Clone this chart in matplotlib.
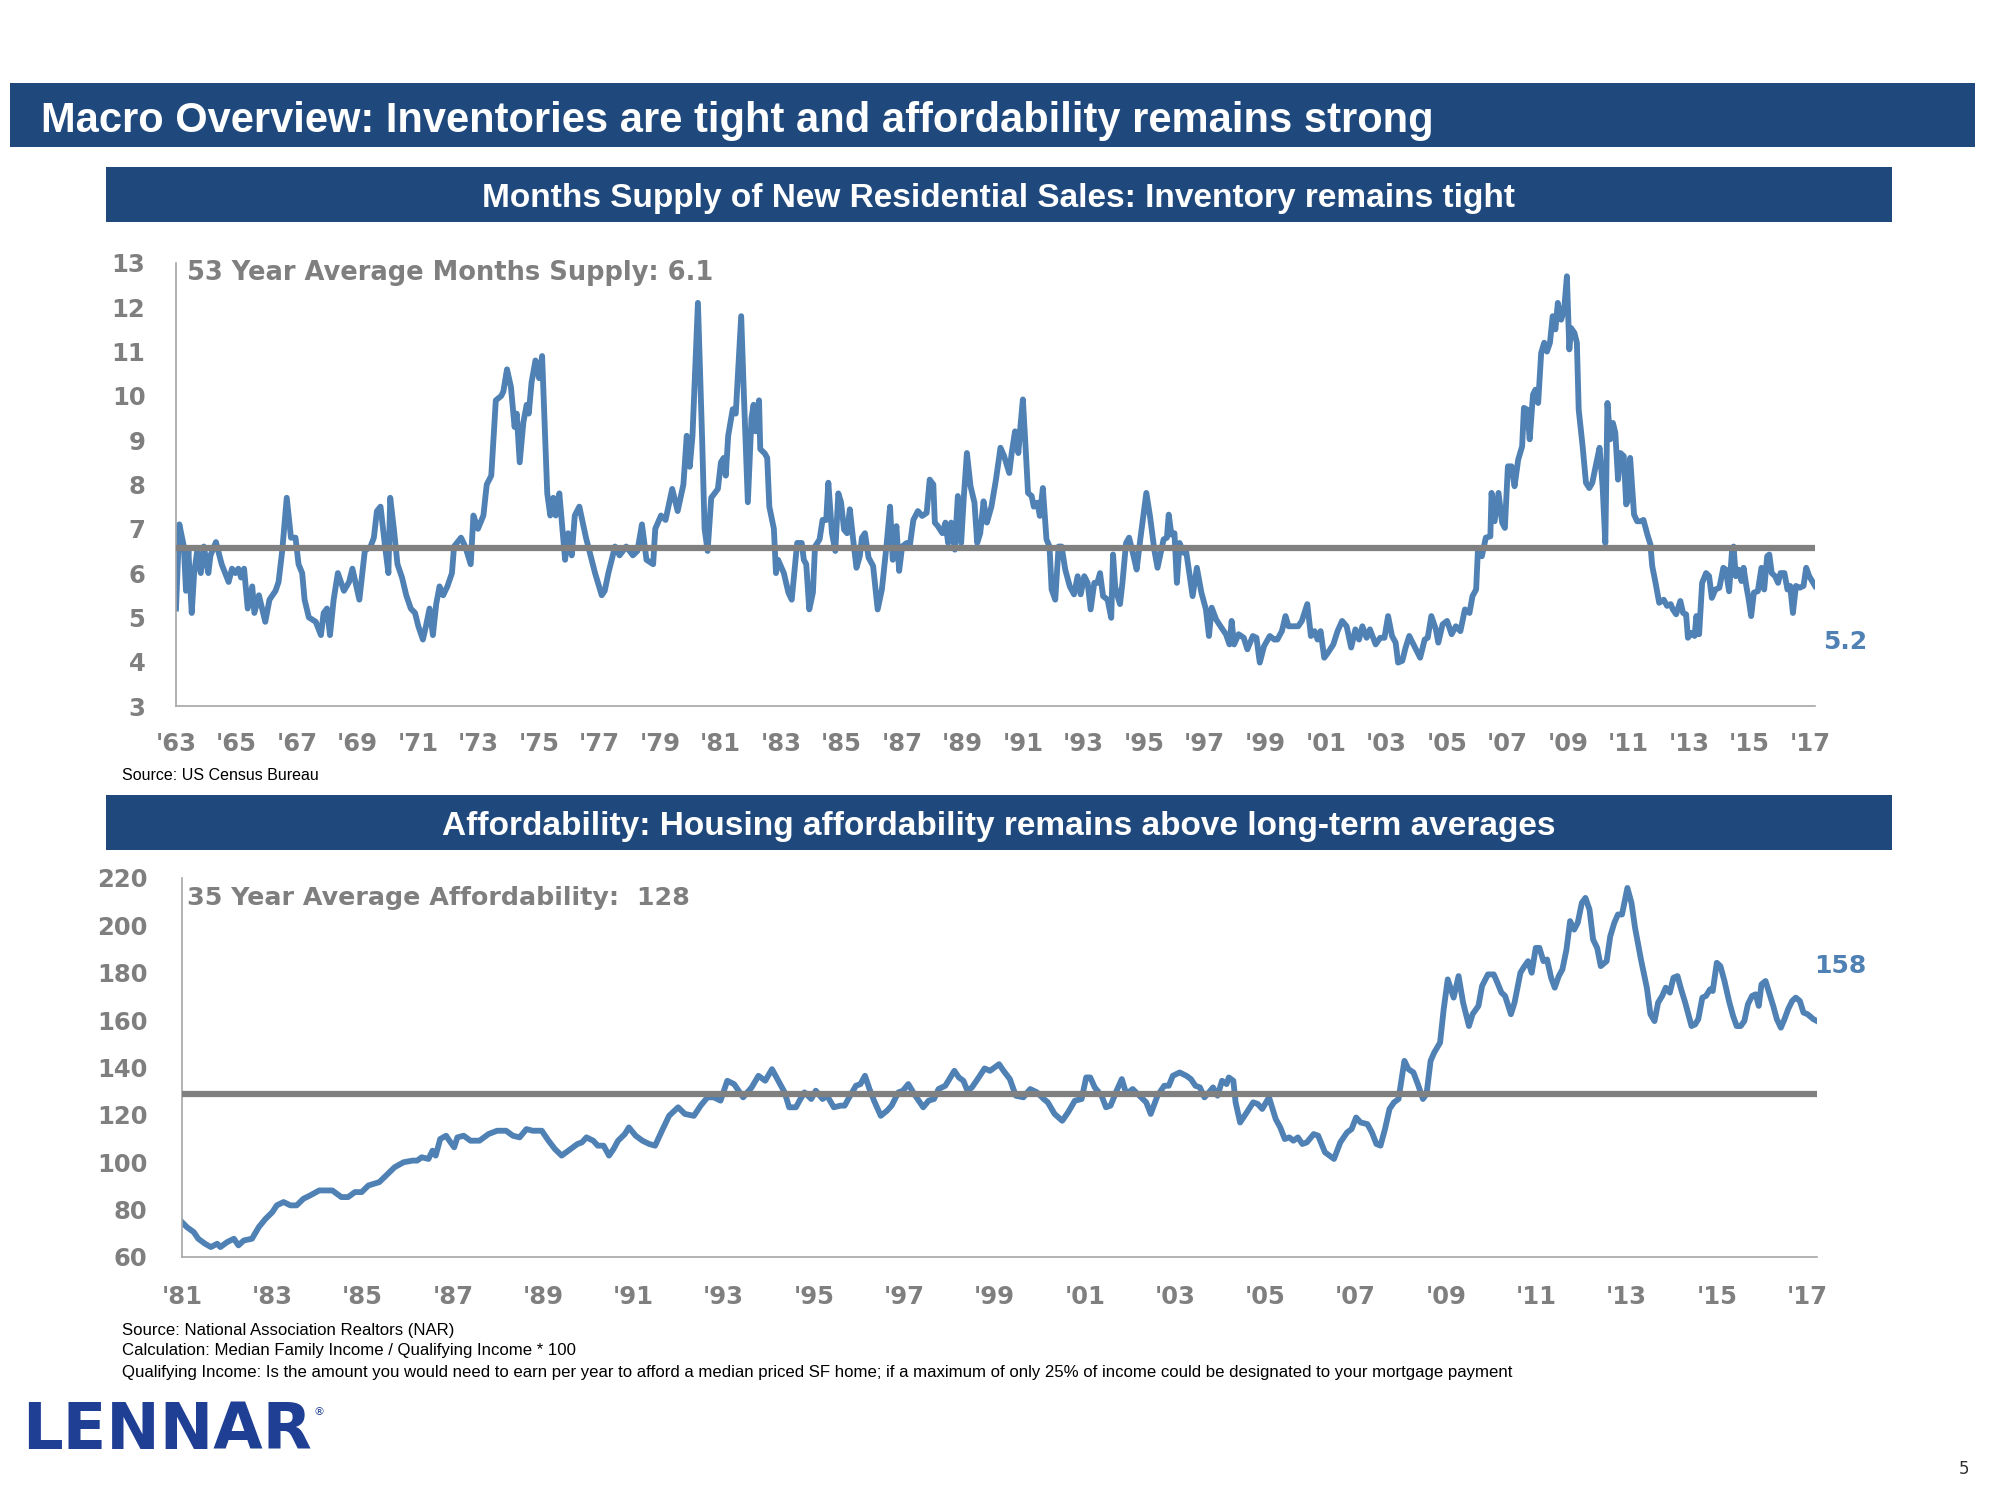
import matplotlib
matplotlib.use("Agg")
import matplotlib.pyplot as plt
from matplotlib.patches import Rectangle

# Months supply of new residential sales
supply_years = [
    1963.00, 1963.11, 1963.26, 1963.33, 1963.41, 1963.52, 1963.60, 1963.70, 1963.82, 1963.92,
    1964.07, 1964.14, 1964.32, 1964.51, 1964.74, 1964.85, 1964.96, 1965.06, 1965.15, 1965.25,
    1965.37, 1965.52, 1965.59, 1965.74, 1965.95, 1966.09, 1966.29, 1966.39, 1966.51, 1966.66,
    1966.80, 1966.95, 1967.05, 1967.17, 1967.25, 1967.39, 1967.62, 1967.79, 1967.88, 1967.99,
    1968.09, 1968.21, 1968.35, 1968.55, 1968.72, 1968.83, 1969.06, 1969.24, 1969.43, 1969.54,
    1969.64, 1969.76, 1969.91, 1970.02, 1970.08, 1970.20, 1970.32, 1970.47, 1970.61, 1970.76,
    1970.90, 1971.01, 1971.16, 1971.26, 1971.38, 1971.49, 1971.60, 1971.71, 1971.83, 1971.97,
    1972.12, 1972.19, 1972.42, 1972.56, 1972.74, 1972.83, 1972.98, 1973.16, 1973.27, 1973.42,
    1973.57, 1973.75, 1973.82, 1973.94, 1974.07, 1974.19, 1974.26, 1974.36, 1974.48, 1974.59,
    1974.66, 1974.75, 1974.88, 1975.00, 1975.10, 1975.27, 1975.37, 1975.47, 1975.55, 1975.67,
    1975.86, 1975.96, 1976.08, 1976.18, 1976.33, 1976.55, 1976.70, 1976.85, 1977.07, 1977.17,
    1977.29, 1977.51, 1977.66, 1977.88, 1978.10, 1978.25, 1978.40, 1978.55, 1978.77, 1978.84,
    1979.03, 1979.18, 1979.40, 1979.58, 1979.77, 1979.88, 1979.98, 1980.07, 1980.25, 1980.39,
    1980.47, 1980.57, 1980.69, 1980.91, 1981.01, 1981.10, 1981.17, 1981.25, 1981.40, 1981.50,
    1981.68, 1981.77, 1981.90, 1982.02, 1982.09, 1982.16, 1982.27, 1982.31, 1982.46, 1982.54,
    1982.61, 1982.76, 1982.83, 1982.90,
    1983.09, 1983.24, 1983.35, 1983.53, 1983.68, 1983.75, 1983.83, 1983.93, 1984.05, 1984.12,
    1984.27, 1984.37, 1984.49, 1984.56, 1984.68, 1984.79, 1984.89, 1984.98, 1985.08, 1985.18,
    1985.27, 1985.38, 1985.49, 1985.60, 1985.67, 1985.77, 1985.89, 1986.04, 1986.19, 1986.33,
    1986.48, 1986.60, 1986.69, 1986.81, 1986.90, 1987.00, 1987.15, 1987.25, 1987.37, 1987.52,
    1987.66, 1987.81, 1987.91, 1988.03, 1988.08, 1988.18, 1988.33, 1988.43, 1988.52, 1988.62,
    1988.74, 1988.84, 1988.95, 1989.04, 1989.14, 1989.26, 1989.39, 1989.48, 1989.58, 1989.69,
    1989.80, 1989.95, 1990.10, 1990.25, 1990.37, 1990.54, 1990.62, 1990.73, 1990.84, 1990.91,
    1990.99, 1991.09, 1991.16, 1991.28, 1991.35, 1991.47, 1991.55, 1991.65, 1991.77, 1991.87,
    1991.94, 1992.06, 1992.17, 1992.27, 1992.39, 1992.54, 1992.68, 1992.80, 1992.90, 1993.02,
    1993.13, 1993.23, 1993.35, 1993.45, 1993.54, 1993.64, 1993.79, 1993.91, 1993.97, 1994.04,
    1994.12, 1994.20, 1994.28, 1994.40, 1994.50, 1994.65, 1994.75, 1994.87, 1994.97, 1995.07,
    1995.19, 1995.34, 1995.44, 1995.56, 1995.64, 1995.75, 1995.81, 1995.90, 1996.00, 1996.08,
    1996.17, 1996.30, 1996.37, 1996.49, 1996.60, 1996.74, 1996.89, 1997.04, 1997.14, 1997.23,
    1997.38, 1997.55, 1997.70, 1997.82, 1997.89, 1997.97, 1998.12, 1998.29, 1998.41, 1998.59,
    1998.71, 1998.82, 1998.96, 1999.15, 1999.30, 1999.40, 1999.55, 1999.67, 1999.77, 1999.92,
    2000.09, 2000.21, 2000.39, 2000.51, 2000.63, 2000.73, 2000.83, 2000.95, 2001.07, 2001.25,
    2001.39, 2001.54, 2001.69, 2001.84, 2001.98, 2002.10, 2002.21, 2002.35, 2002.46, 2002.65,
    2002.80, 2002.94, 2003.06, 2003.19, 2003.31, 2003.39, 2003.53, 2003.64, 2003.76, 2003.90,
    2004.12, 2004.27, 2004.37, 2004.49, 2004.64, 2004.72, 2004.86, 2005.01, 2005.16, 2005.30,
    2005.45, 2005.60, 2005.75, 2005.85, 2005.97,
    2006.03, 2006.16, 2006.29, 2006.44, 2006.48, 2006.58, 2006.71, 2006.83, 2006.92, 2007.02,
    2007.14, 2007.24, 2007.36, 2007.49, 2007.55, 2007.66, 2007.74, 2007.85, 2007.93, 2008.02,
    2008.12, 2008.22, 2008.31, 2008.41, 2008.50, 2008.59, 2008.67, 2008.78, 2008.88, 2008.97,
    2009.05, 2009.11, 2009.22, 2009.30, 2009.36, 2009.49, 2009.60, 2009.71, 2009.81, 2009.92,
    2010.05, 2010.15, 2010.24, 2010.31, 2010.40, 2010.49, 2010.57, 2010.66, 2010.74, 2010.85,
    2010.93, 2011.00, 2011.06, 2011.19, 2011.29, 2011.41, 2011.50, 2011.63, 2011.73, 2011.79,
    2011.90, 2012.02, 2012.17, 2012.28, 2012.40, 2012.47, 2012.58, 2012.72, 2012.81, 2012.91,
    2012.97, 2013.09, 2013.19, 2013.25, 2013.34, 2013.44, 2013.57, 2013.67, 2013.76, 2013.88,
    2014.01, 2014.14, 2014.22, 2014.33, 2014.43, 2014.48, 2014.55, 2014.64, 2014.74, 2014.81,
    2014.90, 2014.98, 2015.06, 2015.15, 2015.28, 2015.40, 2015.49, 2015.59, 2015.66, 2015.74,
    2015.85, 2015.95, 2016.03, 2016.16, 2016.26, 2016.35, 2016.44, 2016.54, 2016.67, 2016.79,
    2016.88, 2016.98, 2017.11, 2017.17,
]
supply_values = [
    5.2, 7.1, 6.6, 5.6, 6.5, 5.1, 6.0, 6.5, 6.0, 6.6,
    6.0, 6.4, 6.7, 6.2, 5.8, 6.1, 6.0, 6.1, 5.9, 6.1,
    5.2, 5.7, 5.1, 5.5, 4.9, 5.4, 5.6, 5.8, 6.5, 7.7,
    6.8, 6.8, 6.2, 6.0, 5.4, 5.0, 4.9, 4.6, 5.1, 5.2,
    4.6, 5.4, 6.0, 5.6, 5.8, 6.1, 5.4, 6.5, 6.6, 6.8,
    7.4, 7.5, 6.6, 6.0, 7.7, 7.0, 6.2, 5.9, 5.5, 5.2,
    5.1, 4.8, 4.5, 4.8, 5.2, 4.6, 5.3, 5.7, 5.5, 5.7,
    6.0, 6.6, 6.8, 6.6, 6.2, 7.3, 7.0, 7.3, 8.0, 8.2,
    9.9, 10.0, 10.1, 10.6, 10.2, 9.3, 9.6, 8.5, 9.4, 9.8,
    9.6, 10.3, 10.8, 10.4, 10.9, 7.8, 7.3, 7.7, 7.3, 7.8,
    6.3, 6.9, 6.4, 7.3, 7.5, 6.8, 6.4, 6.0, 5.5, 5.6,
    6.0, 6.6, 6.4, 6.6, 6.4, 6.5, 7.1, 6.3, 6.2, 7.0,
    7.3, 7.2, 7.9, 7.4, 8.0, 9.1, 8.4, 9.1, 12.1, 9.0,
    7.0, 6.5, 7.7, 7.9, 8.5, 8.6, 8.2, 9.1, 9.7, 9.6,
    11.8, 10.0, 7.6, 9.5, 9.8, 9.2, 9.9, 8.8, 8.7, 8.6,
    7.5, 7.0, 6.0, 6.3,
    6.0, 5.56, 5.4, 6.68, 6.68, 6.3, 6.2, 5.18, 5.56, 6.6,
    6.76, 7.2, 7.2, 8.04, 6.9, 6.5, 7.8, 7.6, 6.98, 6.9,
    7.44, 6.76, 6.12, 6.38, 6.8, 6.9, 6.35, 6.16, 5.18, 5.63,
    6.6, 7.5, 6.3, 7.06, 6.05, 6.6, 6.68, 6.6, 7.2, 7.4,
    7.29, 7.36, 8.11, 8.0, 7.14, 7.06, 6.9, 7.14, 6.68, 7.14,
    6.53, 7.74, 6.68, 7.74, 8.71, 7.96, 7.59, 6.68, 6.9, 7.62,
    7.14, 7.5, 8.11, 8.83, 8.64, 8.26, 8.71, 9.2, 8.71, 9.32,
    9.92, 8.71, 7.81, 7.74, 7.5, 7.59, 7.29, 7.92, 6.76, 6.6,
    5.63, 5.4, 6.6, 6.6, 6.08, 5.7, 5.52, 5.93, 5.52, 5.93,
    5.78, 5.18, 5.78, 5.78, 6.0, 5.48, 5.4, 4.99, 6.42, 5.7,
    5.48, 5.3, 5.78, 6.68, 6.8, 6.38, 6.08, 6.76, 7.29, 7.81,
    7.29, 6.5, 6.12, 6.5, 6.76, 6.8, 7.32, 6.87, 6.9, 5.78,
    6.68, 6.46, 6.57, 6.0, 5.48, 6.12, 5.56, 5.18, 4.58, 5.22,
    4.95, 4.77, 4.62, 4.39, 4.92, 4.39, 4.62, 4.54, 4.28, 4.58,
    4.54, 3.98, 4.35, 4.58, 4.5, 4.5, 4.69, 5.03, 4.8, 4.8,
    4.8, 4.92, 5.3, 4.58, 4.69, 4.5, 4.69, 4.09, 4.2, 4.39,
    4.69, 4.92, 4.8, 4.32, 4.73, 4.5, 4.8, 4.54, 4.73, 4.39,
    4.54, 4.54, 5.03, 4.58, 4.43, 3.98, 4.02, 4.32, 4.58, 4.39,
    4.09, 4.5, 4.54, 5.03, 4.73, 4.43, 4.84, 4.92, 4.62, 4.8,
    4.69, 5.18, 5.1, 5.48, 5.63,
    6.53, 6.38, 6.8, 6.83, 7.81, 7.17, 7.81, 7.14, 7.02, 8.41,
    8.41, 7.96, 8.56, 8.86, 9.73, 9.69, 9.02, 10.03, 10.14, 9.84,
    10.97, 11.2, 11.0, 11.2, 11.8, 11.5, 12.1, 11.72, 11.95, 12.7,
    11.05, 11.53, 11.42, 11.2, 9.69, 8.86, 8.04, 7.92, 8.04, 8.41,
    8.83, 7.96, 6.68, 9.84, 9.02, 9.39, 9.17, 8.11, 8.71, 8.64,
    7.55, 7.66, 8.6, 7.32, 7.17, 7.17, 7.2, 6.87, 6.65, 6.16,
    5.78, 5.33, 5.4, 5.26, 5.3, 5.18, 5.07, 5.37, 5.1, 5.07,
    4.54, 4.65, 4.58, 5.03, 4.62, 5.78, 6.0, 5.93, 5.44, 5.63,
    5.67, 6.12, 6.08, 5.59, 6.53, 6.6, 5.93, 6.08, 5.82, 6.12,
    5.71, 5.4, 5.03, 5.56, 5.59, 6.12, 5.63, 6.38, 6.42, 6.0,
    5.93, 5.78, 6.0, 6.0, 5.63, 5.71, 5.1, 5.71, 5.67, 5.71,
    6.12, 5.93, 5.78, 5.71,
]
supply_avg_line = 6.57
supply_avg_label = "53 Year Average Months Supply: 6.1"
supply_last_label = "5.2"
supply_xticks = list(range(1963, 2018, 2))
supply_yticks = list(range(3, 14))

# NAR housing affordability index
afford_years = [
    1981.00, 1981.11, 1981.26, 1981.36, 1981.51, 1981.64, 1981.78, 1981.85, 1982.00, 1982.15,
    1982.25, 1982.37, 1982.55, 1982.70, 1982.85, 1983.00, 1983.10, 1983.25, 1983.40, 1983.54,
    1983.69, 1983.84, 1984.04, 1984.18, 1984.33, 1984.53, 1984.68, 1984.83, 1984.98, 1985.13,
    1985.37, 1985.56, 1985.71, 1985.91, 1986.11, 1986.21, 1986.31, 1986.46, 1986.55, 1986.62,
    1986.72, 1986.85, 1986.95, 1987.03, 1987.10, 1987.24, 1987.39, 1987.59, 1987.79, 1987.98,
    1988.18, 1988.33, 1988.48, 1988.63, 1988.77, 1988.97, 1989.12, 1989.26, 1989.41, 1989.56,
    1989.76, 1989.86, 1989.96, 1990.11, 1990.21, 1990.34, 1990.46, 1990.56, 1990.66, 1990.81,
    1990.90, 1991.05, 1991.20, 1991.35, 1991.48, 1991.65, 1991.79, 1991.99, 1992.14, 1992.34,
    1992.49, 1992.64, 1992.78, 1992.93, 1993.08, 1993.23, 1993.43, 1993.62, 1993.77, 1993.92,
    1994.07,
    1994.35, 1994.45, 1994.60, 1994.70, 1994.79, 1994.94, 1995.04, 1995.19, 1995.29, 1995.44,
    1995.59, 1995.68, 1995.78, 1995.93, 1996.03, 1996.13, 1996.23, 1996.33, 1996.48, 1996.62,
    1996.72, 1996.87, 1996.97, 1997.09, 1997.22, 1997.42, 1997.54, 1997.66, 1997.76, 1997.91,
    1998.11, 1998.21, 1998.31, 1998.40, 1998.50, 1998.65, 1998.78, 1998.90, 1999.10, 1999.20,
    1999.34, 1999.47, 1999.64, 1999.79, 1999.94, 2000.09, 2000.18, 2000.33, 2000.50, 2000.63,
    2000.78, 2000.93, 2001.03, 2001.12, 2001.22, 2001.37, 2001.47, 2001.57, 2001.72, 2001.82,
    2001.92, 2002.06, 2002.21, 2002.36, 2002.46, 2002.61, 2002.76, 2002.86, 2002.95, 2003.10,
    2003.25, 2003.35, 2003.45, 2003.55, 2003.65, 2003.75, 2003.84, 2003.94, 2004.04, 2004.14,
    2004.19, 2004.29, 2004.34, 2004.44, 2004.59, 2004.73, 2004.83, 2004.93, 2005.08, 2005.23,
    2005.33, 2005.43, 2005.53, 2005.62, 2005.72, 2005.82, 2005.92, 2006.07, 2006.17, 2006.32,
    2006.42, 2006.52, 2006.66, 2006.81, 2006.91, 2007.01, 2007.11, 2007.26, 2007.36, 2007.46,
    2007.55, 2007.65, 2007.75, 2007.85, 2007.95, 2008.08,
    2008.17, 2008.28, 2008.39, 2008.49, 2008.57, 2008.66, 2008.74, 2008.87, 2008.95, 2009.04,
    2009.17, 2009.28, 2009.38, 2009.51, 2009.59, 2009.72, 2009.80, 2009.93, 2010.06, 2010.14,
    2010.23, 2010.31, 2010.44, 2010.52, 2010.65, 2010.74, 2010.82, 2010.90, 2010.99, 2011.07,
    2011.16, 2011.24, 2011.33, 2011.41, 2011.50, 2011.58, 2011.67, 2011.75, 2011.84, 2011.92,
    2012.01, 2012.09, 2012.18, 2012.26, 2012.35, 2012.43, 2012.56, 2012.64, 2012.73, 2012.81,
    2012.90, 2013.02, 2013.11, 2013.19, 2013.32, 2013.45, 2013.53, 2013.62, 2013.70, 2013.79,
    2013.87, 2013.96, 2014.04, 2014.13, 2014.21, 2014.30, 2014.38, 2014.44, 2014.52, 2014.59,
    2014.68, 2014.76, 2014.85, 2014.91, 2015.00, 2015.08, 2015.17, 2015.27, 2015.36, 2015.44,
    2015.53, 2015.61, 2015.69, 2015.78, 2015.86, 2015.93, 2015.99, 2016.08, 2016.16, 2016.25,
    2016.33, 2016.42, 2016.50, 2016.58, 2016.67, 2016.75, 2016.84, 2016.92, 2017.01, 2017.14,
    2017.22,
]
afford_values = [
    74.7, 72.6, 70.5, 67.7, 65.6, 64.2, 65.6, 64.2, 66.3, 67.7,
    64.9, 67.0, 67.7, 72.6, 76.1, 78.9, 81.8, 83.2, 81.8, 81.8,
    84.6, 86.0, 88.1, 88.1, 88.1, 85.3, 85.3, 87.4, 87.4, 90.2,
    91.6, 95.1, 97.9, 100.0, 100.7, 100.7, 102.1, 101.4, 104.9, 102.8,
    109.8, 111.2, 108.4, 106.3, 110.5, 111.2, 109.1, 109.1, 111.9, 113.3,
    113.3, 111.2, 110.5, 114.0, 113.3, 113.3, 109.1, 105.6, 102.8, 104.9,
    107.7, 108.4, 110.5, 109.1, 107.0, 107.0, 102.8, 105.6, 109.1, 111.9,
    114.7, 111.2, 109.1, 107.7, 107.0, 114.0, 119.6, 123.2, 120.4, 119.6,
    123.9, 127.4, 127.4, 126.0, 134.4, 133.0, 127.4, 131.6, 136.5, 134.4,
    139.3,
    129.5, 123.2, 123.2, 126.7, 129.5, 126.7, 130.2, 126.7, 128.1, 123.2,
    123.9, 123.9, 127.4, 132.3, 133.0, 136.5, 130.9, 126.0, 119.6, 121.8,
    123.9, 129.5, 130.2, 133.0, 128.8, 123.2, 126.0, 126.7, 130.9, 132.3,
    138.6, 135.8, 134.4, 130.2, 131.6, 135.8, 139.6, 138.6, 141.4, 138.6,
    135.1, 128.1, 127.4, 130.9, 129.5, 126.7, 125.3, 120.4, 117.5, 121.1,
    126.0, 126.7, 135.8, 135.8, 131.6, 128.1, 123.2, 123.9, 130.9, 135.1,
    128.8, 130.9, 128.1, 125.3, 120.4, 128.1, 132.3, 132.3, 136.5, 137.9,
    136.5, 135.1, 132.3, 131.6, 127.4, 129.5, 131.6, 128.1, 134.4, 133.0,
    135.8, 134.4, 125.3, 116.8, 121.1, 125.3, 124.6, 122.5, 127.4, 118.2,
    114.7, 109.8, 110.5, 109.1, 110.5, 107.7, 108.4, 111.9, 111.2, 104.2,
    102.8, 101.4, 108.4, 112.6, 114.0, 118.9, 116.8, 116.1, 112.6, 107.7,
    107.0, 114.0, 122.5, 125.3, 126.7, 142.8,
    139.3, 137.9, 132.3, 126.7, 128.8, 142.8, 146.3, 150.5, 164.6, 177.2,
    169.5, 178.6, 167.4, 157.5, 162.5, 166.0, 174.4, 179.3, 179.3, 175.8,
    171.6, 170.2, 162.5, 167.4, 180.0, 182.8, 184.9, 180.0, 190.5, 190.5,
    184.9, 185.6, 177.9, 173.7, 178.6, 181.4, 189.8, 201.8, 198.2, 201.1,
    209.5, 211.6, 206.7, 194.0, 190.5, 182.8, 184.9, 195.4, 201.1, 204.6,
    204.6, 215.8, 209.5, 198.9, 185.6, 173.7, 162.5, 159.6, 167.4, 170.2,
    173.7, 171.6, 177.9, 178.6, 173.0, 167.4, 161.8, 157.5, 158.2, 160.4,
    169.5, 170.2, 173.0, 172.3, 184.2, 182.8, 176.5, 168.1, 161.8, 157.5,
    157.5, 159.6, 166.7, 170.2, 170.9, 166.0, 175.1, 176.5, 171.6, 166.0,
    160.4, 156.8, 160.4, 164.6, 168.1, 169.5, 168.1, 163.2, 162.5, 160.4,
    159.6,
]
afford_avg_line = 128.8
afford_avg_label = "35 Year Average Affordability:  128"
afford_last_label = "158"
afford_xticks = list(range(1981, 2018, 2))
afford_yticks = list(range(60, 221, 20))

page_title = "Macro Overview: Inventories are tight and affordability remains strong"
top_title = "Months Supply of New Residential Sales: Inventory remains tight"
bottom_title = "Affordability: Housing affordability remains above long-term averages"
top_source = "Source: US Census Bureau"
bottom_notes = [
    "Source: National Association Realtors (NAR)",
    "Calculation: Median Family Income / Qualifying Income * 100",
    "Qualifying Income: Is the amount you would need to earn per year to afford a median priced SF home; "
    "if a maximum of only 25% of income could be designated to your mortgage payment",
]

W, H = 2000, 1500
NAVY = "#1F497D"
BLUE = "#4F81B4"
GRAY = "#7F7F7F"
AXIS = "#A6A6A6"
LOGO = "#1F3F95"
SANS = ["Liberation Sans", "DejaVu Sans"]


def fx(px):
    return px / W


def fy(py):
    return 1 - py / H


def bar(x0, y0, x1, y1):
    fig.add_artist(Rectangle((fx(x0), fy(y1)), fx(x1 - x0), (y1 - y0) / H,
                             transform=fig.transFigure, facecolor=NAVY, edgecolor="none"))


def style_axis(ax, xticks, yticks, xpad, ypad):
    for side in ["top", "right"]:
        ax.spines[side].set_visible(False)
    for side in ["left", "bottom"]:
        ax.spines[side].set_color(AXIS)
        ax.spines[side].set_linewidth(1.2)
    ax.set_xticks(xticks)
    ax.set_xticklabels(["'%02d" % (y % 100) for y in xticks])
    ax.set_yticks(yticks)
    ax.tick_params(length=0, labelsize=17.5, labelcolor=GRAY)
    ax.tick_params(axis="x", pad=xpad)
    ax.tick_params(axis="y", pad=ypad)
    for lab in ax.get_xticklabels() + ax.get_yticklabels():
        lab.set_fontweight("bold")


fig = plt.figure(figsize=(20, 15), dpi=100)

# banners
bar(10, 83, 1975, 147)
fig.text(fx(41), fy(121), page_title, fontsize=30, fontweight="bold", color="white",
         va="center", ha="left", family=SANS)
bar(106, 167, 1892, 222)
fig.text(fx(999), fy(198), top_title, fontsize=24, fontweight="bold", color="white",
         va="center", ha="center", family=SANS)
bar(106, 795, 1892, 850)
fig.text(fx(999), fy(826), bottom_title, fontsize=24, fontweight="bold", color="white",
         va="center", ha="center", family=SANS)

# top chart: months supply
ax1 = fig.add_axes([fx(176), fy(706), fx(1815 - 176), (706 - 263) / H])
ax1.plot(supply_years, supply_values, color=BLUE, lw=4.2, solid_joinstyle="round", zorder=2)
ax1.axhline(supply_avg_line, color="#808080", lw=4.5, zorder=3, solid_capstyle="round")
ax1.set_xlim(1963, 2017.17)
ax1.set_ylim(3, 13)
style_axis(ax1, supply_xticks, supply_yticks, 19, 22)

fig.text(fx(187), fy(273), supply_avg_label, fontsize=18.5, fontweight="bold", color=GRAY,
         va="center", ha="left")
fig.text(fx(1845), fy(642), supply_last_label, fontsize=18, fontweight="bold", color=BLUE,
         va="center", ha="center")
fig.text(fx(122), fy(775), top_source, fontsize=11.5, color="black", va="center", ha="left",
         family=SANS)

# bottom chart: affordability
ax2 = fig.add_axes([fx(182), fy(1257), fx(1817 - 182), (1257 - 878) / H])
ax2.plot(afford_years, afford_values, color=BLUE, lw=4.2, solid_joinstyle="round", zorder=2)
ax2.axhline(afford_avg_line, color="#808080", lw=4.5, zorder=3, solid_capstyle="round")
ax2.set_xlim(1981, 2017.22)
ax2.set_ylim(60, 220)
style_axis(ax2, afford_xticks, afford_yticks, 20, 25)

fig.text(fx(187), fy(898), afford_avg_label, fontsize=18.3, fontweight="bold", color=GRAY,
         va="center", ha="left")
fig.text(fx(1840), fy(966), afford_last_label, fontsize=18, fontweight="bold", color=BLUE,
         va="center", ha="center")
for i, note in enumerate(bottom_notes):
    fig.text(fx(122), fy(1330 + 21 * i), note, fontsize=12.1, color="black",
             va="center", ha="left", family=SANS)

# logo and page number
logo = fig.text(fx(22), fy(1431), "LENNAR", fontsize=46, fontweight="bold", color=LOGO,
                va="center", ha="left")
fig.canvas.draw()
bb = logo.get_window_extent()
fig.text(bb.x1 / W + 0.001, fy(1412), "\u00ae", fontsize=8, color=LOGO,
         va="center", ha="left")
fig.text(fx(1964), fy(1469), "5", fontsize=12, color="#333333", va="center", ha="center")

fig.savefig("out.png", dpi=100)
